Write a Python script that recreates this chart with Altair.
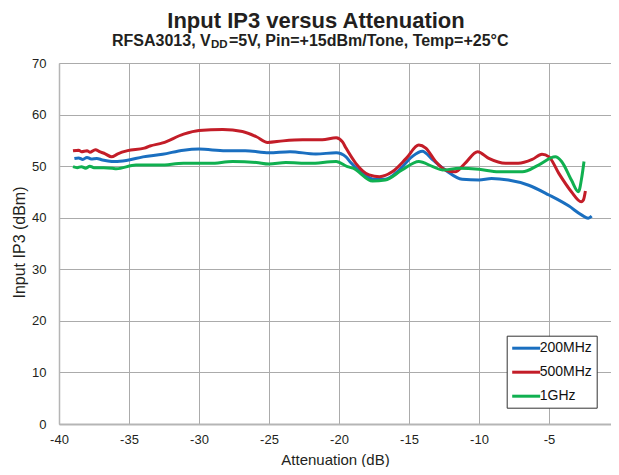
import altair as alt
import pandas as pd

# ---- data ----
series_names = ["200MHz", "500MHz", "1GHz"]
series_colors = ["#1a6fc0", "#c31d28", "#10b050"]

att_200 = [-38.9, -38.6, -38.3, -38.0, -37.7, -37.3, -36.9, -36.5, -36.0, -35.2,
           -34.0, -32.6, -31.1, -30.0, -28.1, -26.7, -25.0, -23.5, -21.65, -20.2,
           -19.5, -19.2, -18.3, -17.5, -16.7, -15.7, -14.8, -14.05, -13.3, -12.4,
           -11.2, -10.0, -9.1, -7.9, -6.45, -5.0, -3.6, -2.65, -2.2, -1.95]
ip3_200 = [51.5, 51.6, 51.3, 51.7, 51.4, 51.5, 51.2, 51.0, 50.9, 51.1,
           51.8, 52.3, 53.1, 53.3, 53.0, 53.0, 52.6, 52.8, 52.35, 52.6,
           51.8, 50.8, 48.6, 47.45, 47.45, 49.25, 51.8, 52.9, 51.2, 49.25,
           47.45, 47.3, 47.6, 47.3, 46.3, 44.4, 42.3, 40.5, 39.9, 40.3]

att_500 = [-39.0, -38.6, -38.4, -38.0, -37.8, -37.4, -37.1, -36.7, -36.25, -35.8,
           -35.1, -33.9, -33.5, -32.6, -31.1, -30.0, -28.3, -26.9, -25.9, -25.1,
           -24.0, -22.6, -21.2, -20.2, -19.75, -19.5, -18.8, -17.85, -17.1, -16.2,
           -15.2, -14.3, -13.8, -13.1, -12.4, -11.7, -11.0, -10.1, -9.3, -8.1,
           -7.2, -6.2, -5.5, -5.0, -4.3, -3.4, -2.7, -2.55, -2.4]
ip3_500 = [53.0, 53.1, 52.8, 53.0, 52.7, 53.2, 52.8, 52.4, 51.8, 52.4,
           53.0, 53.5, 53.9, 54.5, 56.2, 56.9, 57.1, 56.7, 55.7, 54.6,
           54.9, 55.1, 55.1, 55.5, 54.7, 53.5, 50.55, 48.3, 47.95, 48.9,
           51.5, 54.1, 53.5, 50.9, 49.25, 48.9, 50.55, 52.8, 51.5, 50.55,
           50.55, 51.3, 52.3, 51.8, 48.6, 45.05, 43.1, 43.4, 45.2]

att_1g = [-39.0, -38.7, -38.4, -38.1, -37.8, -37.5, -36.8, -36.2, -35.9, -34.5,
          -32.8, -31.1, -29.2, -27.6, -25.9, -25.0, -23.8, -22.1, -20.2, -19.4,
          -19.0, -17.6, -16.7, -15.5, -14.3, -13.3, -12.6, -11.4, -10.0, -8.6,
          -6.9, -5.75, -4.55, -4.1, -3.4, -2.9, -2.65, -2.5]
ip3_1g = [49.9, 49.7, 49.9, 49.6, 50.0, 49.7, 49.7, 49.6, 49.5, 50.2,
          50.2, 50.55, 50.55, 50.9, 50.7, 50.4, 50.7, 50.55, 50.9, 49.9,
          49.6, 47.1, 47.3, 49.25, 50.9, 49.9, 49.25, 49.6, 49.4, 48.9,
          48.9, 50.2, 51.8, 50.9, 47.3, 45.05, 48.0, 50.9]

x_ticks = [-40, -35, -30, -25, -20, -15, -10, -5, 0]
y_ticks = [0, 10, 20, 30, 40, 50, 60, 70]

title_text = "Input IP3 versus Attenuation"
sub_a = "RFSA3013, V"
sub_b = "DD"
sub_c = "=5V, Pin=+15dBm/Tone, Temp=+25°C"

FONT = "Liberation Sans"
TXT = "#231f20"
GRID = "#ababab"

rows = []
for name, xs, ys in [(series_names[0], att_200, ip3_200),
                     (series_names[1], att_500, ip3_500),
                     (series_names[2], att_1g, ip3_1g)]:
    for i, (a, b) in enumerate(zip(xs, ys)):
        rows.append({"series": name, "att": a, "ip3": b, "idx": i})
df = pd.DataFrame(rows)

lines = alt.Chart(df).mark_line(strokeWidth=3, interpolate="monotone").encode(
    x=alt.X("att:Q",
            scale=alt.Scale(domain=[-40, 0], nice=False, zero=False),
            axis=alt.Axis(values=x_ticks, labelExpr="'' + datum.value",
                          title="Attenuation (dB)",
                          labelFont=FONT, labelFontSize=13, labelColor=TXT,
                          labelPadding=9, ticks=False, tickSize=0,
                          domainColor="#b5b5b5", domainWidth=2,
                          gridColor=GRID, gridWidth=1,
                          titleFont=FONT, titleFontSize=15, titleFontWeight="normal",
                          titleColor=TXT, titleBaseline="alphabetic",
                          titleX=276, titleY=40, labelFlush=False)),
    y=alt.Y("ip3:Q",
            scale=alt.Scale(domain=[0, 70], nice=False),
            axis=alt.Axis(values=y_ticks, labelExpr="'' + datum.value",
                          title="Input IP3 (dBm)",
                          labelFont=FONT, labelFontSize=13, labelColor=TXT,
                          labelPadding=13, ticks=False, tickSize=0,
                          domainColor="#b5b5b5", domainWidth=1.5,
                          gridColor=GRID, gridWidth=1,
                          titleFont=FONT, titleFontSize=16, titleFontWeight="normal",
                          titleColor=TXT, titleBaseline="alphabetic",
                          titleAngle=270, titleX=-34.5, titleY=179)),
    color=alt.Color("series:N", title=None,
                    scale=alt.Scale(domain=series_names, range=series_colors),
                    legend=alt.Legend(orient="none", legendX=447.7, legendY=272.7,
                                      symbolType="M-2,0H2", symbolSize=196,
                                      symbolOffset=7,
                                      symbolStrokeWidth=3, labelFont=FONT,
                                      labelFontSize=14, labelColor="#111111",
                                      labelOffset=5, padding=4, rowPadding=8,
                                      strokeColor="#333333", fillColor="#ffffff")),
    order=alt.Order("idx:Q"),
)

def txt(s, x, y, size, weight, align):
    return alt.Chart(pd.DataFrame({"t": [s]})).mark_text(
        font=FONT, fontSize=size, fontWeight=weight, align=align,
        baseline="alphabetic", color=TXT
    ).encode(x=alt.value(x), y=alt.value(y), text="t:N")

t_main = txt(title_text, 257, -35.5, 22, "bold", "center")
t_a = txt(sub_a, 151.7, -17.5, 16, "bold", "right")
t_b = txt(sub_b, 152, -15, 11.5, "bold", "left")
t_c = txt(sub_c, 170, -17.5, 16, "bold", "left")

chart = alt.layer(lines, t_main, t_a, t_b, t_c).properties(
    width=560, height=361,
    autosize=alt.AutoSizeParams(type="none"),
    padding={"left": 51, "top": 55, "right": -8, "bottom": 43},
    background="#ffffff",
).configure_view(strokeWidth=0)

chart.save("out.html", embed_options={"renderer": "svg", "actions": False})
